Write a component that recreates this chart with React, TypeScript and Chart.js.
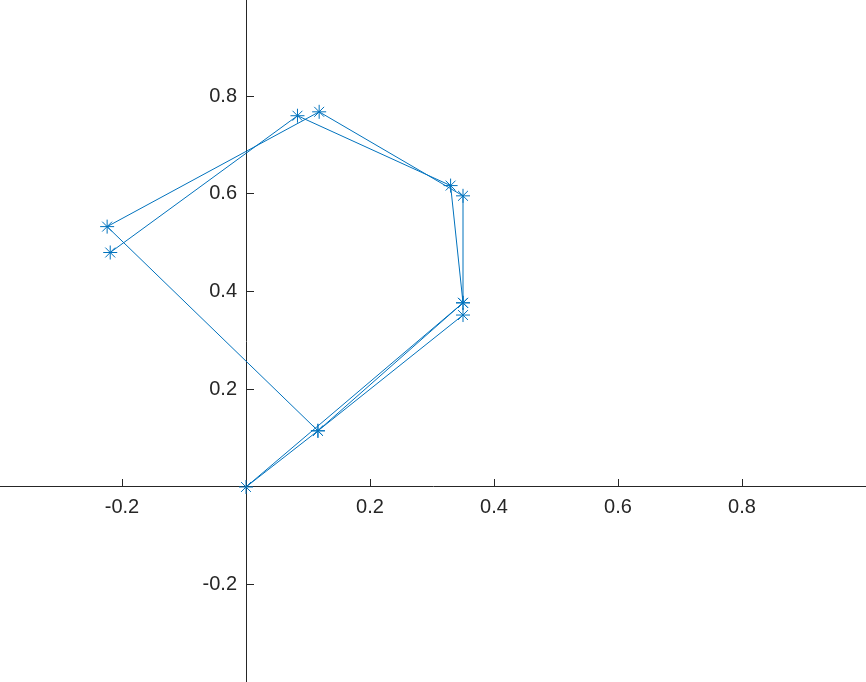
import React, { useEffect, useRef } from "react";
import { Chart, registerables } from "chart.js";

Chart.register(...registerables);

// Path of the plotted polyline
const X_VALUES = [0.35, 0.116, 0, 0.35, 0.35, 0.118, -0.224, 0.116, 0.35, 0.330, 0.083, -0.219];
const Y_VALUES = [0.352, 0.115, 0, 0.377, 0.596, 0.768, 0.533, 0.115, 0.377, 0.617, 0.760, 0.480];

const X_TICKS = [-0.2, 0.2, 0.4, 0.6, 0.8];
const Y_TICKS = [-0.2, 0.2, 0.4, 0.6, 0.8];

const X_MIN = -0.3968;
const X_MAX = 1.0;
const Y_MIN = -0.3992;
const Y_MAX = 0.9969;

const INK = "#262626";
const LINE = "#0072BD";
const FONT = { family: "'Liberation Sans', Arial, Helvetica, sans-serif", size: 20 };

const zeroPad = (s: any) => {
  s.paddingTop = 0;
  s.paddingBottom = 0;
  s.paddingLeft = 0;
  s.paddingRight = 0;
};

export default function App() {
  const ref = useRef<HTMLCanvasElement | null>(null);

  useEffect(() => {
    if (!ref.current) return;
    const points = X_VALUES.map((x, i) => ({ x, y: Y_VALUES[i] }));
    const chart = new Chart(ref.current, {
      type: "scatter",
      data: {
        datasets: [
          {
            data: points,
            showLine: true,
            borderColor: LINE,
            borderWidth: 1,
            backgroundColor: LINE,
            pointStyle: "star",
            pointRadius: 7,
            pointBorderWidth: 1,
            pointBorderColor: LINE,
            pointHoverRadius: 7,
            xAxisID: "x",
            yAxisID: "y",
          },
        ],
      },
      options: {
        responsive: false,
        animation: false,
        layout: { padding: 0, autoPadding: false },
        plugins: { legend: { display: false }, tooltip: { enabled: false } },
        scales: {
          x: {
            type: "linear",
            min: X_MIN,
            max: X_MAX,
            position: { y: 0 } as any,
            afterBuildTicks: (s: any) => {
              s.ticks = X_TICKS.map((v) => ({ value: v }));
            },
            afterFit: zeroPad,
            grid: {
              display: true,
              drawOnChartArea: false,
              drawTicks: true,
              tickLength: -8,
              color: INK,
              lineWidth: 1,
            },
            border: { display: true, color: INK, width: 1 },
            ticks: {
              color: INK,
              font: FONT,
              padding: 16,
              maxRotation: 0,
              autoSkip: false,
            },
          },
          y: {
            type: "linear",
            min: Y_MIN,
            max: Y_MAX,
            position: { x: 0 } as any,
            afterBuildTicks: (s: any) => {
              s.ticks = Y_TICKS.map((v) => ({ value: v }));
            },
            afterFit: zeroPad,
            grid: {
              display: true,
              drawOnChartArea: false,
              drawTicks: true,
              tickLength: -8,
              color: INK,
              lineWidth: 1,
            },
            border: { display: true, color: INK, width: 1 },
            ticks: { display: false },
          },
          yl: {
            type: "linear",
            min: Y_MIN,
            max: Y_MAX,
            position: { x: -0.0145 } as any,
            afterBuildTicks: (s: any) => {
              s.ticks = Y_TICKS.map((v) => ({ value: v }));
            },
            afterFit: zeroPad,
            grid: { display: false },
            border: { display: false },
            ticks: { color: INK, font: FONT, padding: 0, autoSkip: false },
          },
        },
      },
    });
    return () => chart.destroy();
  }, []);

  return (
    <div style={{ position: "absolute", left: 0, top: 0, width: 866, height: 682, background: "#fff" }}>
      <canvas ref={ref} width={866} height={682} style={{ display: "block", width: 866, height: 682 }} />
    </div>
  );
}
